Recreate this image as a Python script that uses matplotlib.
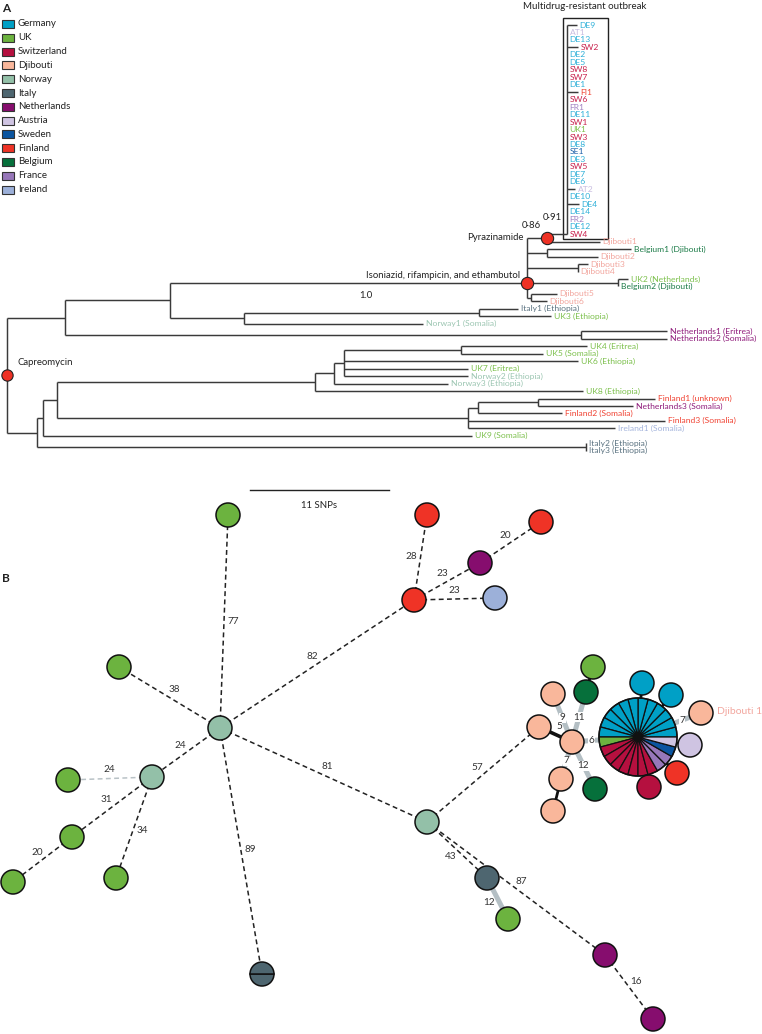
import matplotlib
matplotlib.use('Agg')
import matplotlib.pyplot as plt
from matplotlib.patches import Circle, Wedge, Rectangle
import numpy as np

plt.rcParams['font.family'] = ['Lato', 'DejaVu Sans']

W, H = 762, 1034
fig = plt.figure(figsize=(W / 100, H / 100), dpi=100)

# ---------------------------------------------------------------- data
countries = ['Germany', 'UK', 'Switzerland', 'Djibouti', 'Norway', 'Italy', 'Netherlands',
             'Austria', 'Sweden', 'Finland', 'Belgium', 'France', 'Ireland']
country_fill = ['#00a0c6', '#6cb33f', '#b5103f', '#f9b79b', '#93c0a8', '#4e6670', '#860d6e',
                '#cfc4e2', '#0b55a0', '#ef3326', '#06703b', '#9777b9', '#9cb0d9']
country_text = ['#2eb0d8', '#7cc04c', '#c8204c', '#f2a69e', '#9cc6b2', '#5a7280', '#8e1a7a',
                '#c8bce0', '#1a5ea8', '#f04232', '#1a7a46', '#a080c2', '#a4b4dc']
prefix_country = {'DE': 'Germany', 'AT': 'Austria', 'SW': 'Switzerland', 'FI': 'Finland',
                  'FR': 'France', 'UK': 'UK', 'SE': 'Sweden', 'Djibouti': 'Djibouti',
                  'Belgium': 'Belgium', 'Italy': 'Italy', 'Norway': 'Norway',
                  'Netherlands': 'Netherlands', 'Finland': 'Finland', 'Ireland': 'Ireland'}

# phylogeny (branch lengths in SNPs)
tree_newick = """(
 (
  (
   (
    (
     (DE9:0.79,AT1:0,DE13:0,SW2:0.87,DE2:0,DE5:0,SW8:0,SW7:0,DE1:0,FI1:0.87,SW6:0,FR1:0,
      DE11:0,SW1:0,UK1:0,SW3:0,DE8:0,SE1:0,DE3:0,SW5:0,DE7:0,DE6:0,AT2:0.63,DE10:0,
      DE4:0.95,DE14:0,FR2:0,DE12:0,SW4:0)MDR:1.59,
     Djibouti1:4.21
    )PZA:1.59,
    (Belgium1:6.67,Djibouti2:4.05):1.59,
    (Djibouti3:0.79,Djibouti4:0):4.05,
    (UK2:0.79,Belgium2:0)UB:7.22,
    (Djibouti5:2.06,Djibouti6:1.27):0.32
   )ISO:28.33,
   ((Italy1:3.10,UK3:5.71):18.65,Norway1:14.21):5.87
  ):8.33,
  (Netherlands1:6.83,Netherlands2:6.83):40.95
 ):4.60,
 (
  (
   (
    (
     (
      ((UK4:10.0,UK5:6.51):9.29,UK6:18.57,UK7:9.84,Norway2:9.84):0.79,
      Norway3:9.05
     ):1.51,
     UK8:21.27
    ):20.48,
    (((Finland1:9.29,Netherlands3:7.54):4.76,Finland2:6.67):0.79,Finland3:15.63,Ireland1:11.67):32.62
   ):1.11,
   UK9:34.05
  ):0.48,
  (Italy2:0,Italy3:0):43.57
 ):2.38
)root;"""

tip_origin = {'Belgium1': 'Djibouti', 'UK2': 'Netherlands', 'Belgium2': 'Djibouti',
              'Italy1': 'Ethiopia', 'UK3': 'Ethiopia', 'Norway1': 'Somalia',
              'Netherlands1': 'Eritrea', 'Netherlands2': 'Somalia', 'UK4': 'Eritrea',
              'UK5': 'Somalia', 'UK6': 'Ethiopia', 'UK7': 'Eritrea', 'Norway2': 'Ethiopia',
              'Norway3': 'Ethiopia', 'UK8': 'Ethiopia', 'Finland1': 'unknown',
              'Netherlands3': 'Somalia', 'Finland2': 'Somalia', 'Finland3': 'Somalia',
              'Ireland1': 'Somalia', 'UK9': 'Somalia', 'Italy2': 'Ethiopia', 'Italy3': 'Ethiopia'}

resistance_nodes = ['root', 'ISO', 'PZA']
resistance_text = ['Capreomycin', 'Isoniazid, rifampicin, and ethambutol', 'Pyrazinamide']
support_values = ['0·86', '0·91']
iso_branch_support = '1.0'
scale_snps = 11

# minimum spanning network (layout coordinates of the nodes)
net_country = ['UK', 'Finland', 'Finland', 'Netherlands', 'Finland', 'Ireland', 'UK', 'Norway',
               'Norway', 'UK', 'UK', 'UK', 'UK', 'Italy', 'Norway', 'Italy', 'UK',
               'Netherlands', 'Netherlands', 'Djibouti', 'Djibouti', 'Belgium', 'UK',
               'Djibouti', 'Djibouti', 'Djibouti', 'Belgium', 'MDR', 'Germany', 'Germany',
               'Djibouti', 'Austria', 'Finland', 'Switzerland']
net_x = [228, 427, 541, 480, 414, 495, 119, 220, 152, 68, 72, 13, 116, 262, 427, 487, 508,
         605, 653, 572, 553, 586, 593, 539, 561, 553, 595, 638, 642, 671, 701, 690, 677, 649]
net_y = [515, 515, 522, 563, 600, 598, 667, 728, 777, 780, 837, 882, 878, 974, 822, 878, 919,
         955, 1019, 742, 694, 692, 667, 727, 779, 811, 789, 737, 683, 695, 713, 745, 773, 787]
net_count = [1] * len(net_x)
net_count[13] = 2
pie_countries = ['Germany', 'UK', 'Switzerland', 'France', 'Sweden', 'Austria']
pie_counts = [12, 1, 7, 2, 1, 1]

edges_from = [7, 7, 7, 8, 8, 10, 8, 7, 7, 4, 4, 3, 4, 7, 14, 15, 14, 17, 14,
              19, 19, 21, 19, 19, 19, 19, 24, 27, 27, 27, 27, 27, 27]
edges_to = [0, 6, 8, 9, 10, 11, 12, 13, 4, 1, 3, 2, 5, 14, 15, 16, 17, 18, 23,
            20, 21, 22, 27, 23, 24, 26, 25, 30, 28, 29, 31, 32, 33]
edges_snp = ['77', '38', '24', '24', '31', '20', '34', '89', '82', '28', '23', '20', '23', '81',
             '43', '12', '87', '16', '57', '9', '11', '', '6', '5', '7', '12', '', '7',
             '', '', '', '', '']
edges_kind = ['d', 'd', 'd', 'g', 'd', 'd', 'd', 'd', 'd', 'd', 'd', 'd', 'd', 'd',
              'd', 'G', 'd', 'd', 'd', 'G', 'G', 'k', 'G', 'K', 'G', 'G', 'k', 'G',
              'k', 'k', 'k', 'k', 'k']
edges_side = [1, 1, 1, 1, 1, 1, -1, -1, -1, -1, -1, -1, -1, -1, 1, 1, -1, -1, -1,
              0, 0, 0, 0, 1, 0, 0, 0, 0, 0, 0, 0, 0, 0]

# ---------------------------------------------------------------- helpers
cmap_fill = dict(zip(countries, country_fill))
cmap_text = dict(zip(countries, country_text))


def parse_newick(s):
    s = ''.join(s.split()).rstrip(';')
    pos = 0

    def node():
        nonlocal pos
        ch = []
        if s[pos] == '(':
            pos += 1
            while True:
                ch.append(node())
                if s[pos] == ',':
                    pos += 1
                    continue
                pos += 1
                break
        st = pos
        while pos < len(s) and s[pos] not in ',():':
            pos += 1
        name = s[st:pos]
        ln = 0.0
        if pos < len(s) and s[pos] == ':':
            pos += 1
            st = pos
            while pos < len(s) and s[pos] not in ',()':
                pos += 1
            ln = float(s[st:pos])
        return {'name': name, 'len': ln, 'children': ch}
    return node()


def tip_country(name):
    for p in sorted(prefix_country, key=len, reverse=True):
        if name.startswith(p):
            return prefix_country[p]
    return 'UK'


# ---------------------------------------------------------------- panel A (tree)
PX_PER_SNP = 12.6
X0, Y0, DY = 7, 25, 7.47
axT = fig.add_axes([0, 0, 1, 1])
axT.set_xlim(-X0 / PX_PER_SNP, (W - X0) / PX_PER_SNP)
axT.set_ylim((H - Y0) / DY, -Y0 / DY)
axT.axis('off')

tree = parse_newick(tree_newick)
attach_child = {'MDR': -1, 'ISO': 3}
tips = []
nodes = {}


def layout(nd, x):
    nd['x'] = x + nd['len']
    if not nd['children']:
        nd['y'] = len(tips)
        tips.append(nd)
    else:
        for c in nd['children']:
            layout(c, nd['x'])
        ys = [c['y'] for c in nd['children']]
        if nd['name'] in attach_child:
            nd['y'] = ys[attach_child[nd['name']]]
        else:
            nd['y'] = (ys[0] + ys[-1]) / 2
    if nd['name']:
        nodes[nd['name']] = nd


tree['len'] = 0
layout(tree, 0)
LC = '#3a3a3a'
LW = 1.05


def draw(nd):
    if nd['children']:
        ys = [c['y'] for c in nd['children']]
        axT.plot([nd['x'], nd['x']], [min(ys), max(ys)], color=LC, lw=LW, solid_capstyle='butt')
        for c in nd['children']:
            axT.plot([nd['x'], c['x']], [c['y'], c['y']], color=LC, lw=LW, solid_capstyle='butt')
            draw(c)


draw(tree)

for t in tips:
    cn = tip_country(t['name'])
    lab = t['name'] + (f" ({tip_origin[t['name']]})" if t['name'] in tip_origin else '')
    axT.text(t['x'] + 0.22, t['y'], lab, color=cmap_text[cn], fontsize=6.1,
             va='center', ha='left')

# MDR box
mdr = nodes['MDR']
n_mdr = len(mdr['children'])
axT.add_patch(Rectangle((mdr['x'] - 0.32, -0.95), 3.6, n_mdr - 1 + 1.6, fill=False,
                        ec='#222', lw=1.0))
axT.text(mdr['x'] + 1.4, -2.45, 'Multidrug-resistant outbreak', fontsize=7, color='#222',
         ha='center', va='center')

# resistance acquisition markers
for nm in resistance_nodes:
    nd = nodes[nm]
    axT.scatter([nd['x']], [nd['y']], s=78 if nm != 'root' else 66, color='#ee3124',
                edgecolor='#222', lw=0.8, zorder=5)
iso = nodes['ISO']
pza = nodes['PZA']
root = nodes['root']
axT.text(root['x'] + 0.8, root['y'] - 1.75, resistance_text[0], fontsize=6.9, color='#222',
         ha='left', va='center')
axT.text(iso['x'] - 0.5, iso['y'] - 0.95, resistance_text[1], fontsize=6.9, color='#222',
         ha='right', va='center')
axT.text(iso['x'] - 0.3, pza['y'], resistance_text[2], fontsize=6.9, color='#222',
         ha='right', va='center')
axT.text(iso['x'] + 0.35, pza['y'] - 1.6, support_values[0], fontsize=6.9, color='#222',
         ha='center', va='center')
axT.text(pza['x'] + 0.4, pza['y'] - 2.7, support_values[1], fontsize=6.9, color='#222',
         ha='center', va='center')
axT.text(28.5, iso['y'] + 1.7, iso_branch_support, fontsize=6.9, color='#222',
         ha='center', va='center')

# scale bar
sb_x = 19.3
sb_y = 62.2
axT.plot([sb_x, sb_x + scale_snps], [sb_y, sb_y], color='#222', lw=1.0)
axT.text(sb_x + scale_snps / 2, sb_y + 2.1, f'{scale_snps} SNPs', fontsize=6.9,
         color='#222', ha='center', va='center')

# ---------------------------------------------------------------- overlay axes (pixels)
axN = fig.add_axes([0, 0, 1, 1])
axN.set_xlim(0, W)
axN.set_ylim(H, 0)
axN.axis('off')
axN.patch.set_alpha(0)

axN.text(2, 9, 'A', fontsize=8.5, fontweight='bold', color='#222', va='center', ha='left')
axN.text(2, 578, 'B', fontsize=8.5, fontweight='bold', color='#222', va='center', ha='left')

# legend
for i, (c, f) in enumerate(zip(countries, country_fill)):
    yy = 24 + i * 13.8
    axN.add_patch(Rectangle((2, yy - 4), 12, 8, fc=f, ec='#333', lw=0.8))
    axN.text(18, yy, c, fontsize=7, color='#222', va='center', ha='left')

# ---------------------------------------------------------------- panel B (network)
net_r = [39 if n_ == 'MDR' else 12 for n_ in net_country]

for a, b, lab, kind, side in zip(edges_from, edges_to, edges_snp, edges_kind, edges_side):
    xa, ya, xb, yb = net_x[a], net_y[a], net_x[b], net_y[b]
    if kind == 'd':
        axN.plot([xa, xb], [ya, yb], color='#222', lw=1.1, ls=(0, (3.2, 2.2)), zorder=1)
    elif kind == 'g':
        axN.plot([xa, xb], [ya, yb], color='#b9c2c6', lw=1.1, ls=(0, (3.2, 2.2)), zorder=1)
    elif kind == 'G':
        axN.plot([xa, xb], [ya, yb], color='#b4bfc4', lw=3.6, zorder=1, solid_capstyle='butt')
    elif kind == 'K':
        axN.plot([xa, xb], [ya, yb], color='#111', lw=2.6, zorder=1, solid_capstyle='butt')
    else:
        axN.plot([xa, xb], [ya, yb], color='#111', lw=2.0, zorder=1, solid_capstyle='butt')
    if lab:
        L = np.hypot(xb - xa, yb - ya)
        nx, ny = -(yb - ya) / L, (xb - xa) / L
        if a in (27,) or b in (27,):
            t = (net_r[a] + (L - net_r[a] - net_r[b]) / 2) / L
        else:
            t = 0.5
        mx, my = xa + t * (xb - xa), ya + t * (yb - ya)
        if side == 0:
            axN.text(mx, my, lab, fontsize=7.2, color='#333', ha='center', va='center',
                     zorder=3, bbox=dict(boxstyle='square,pad=0.05', fc='white', ec='none'))
        else:
            off = 9
            axN.text(mx + side * off * nx, my + side * off * ny, lab, fontsize=7.2,
                     color='#333', ha='center', va='center', zorder=3)

for i, (cn, x, y, r) in enumerate(zip(net_country, net_x, net_y, net_r)):
    if cn == 'MDR':
        total = sum(pie_counts)
        ang = 0.0
        for pc, cnt in zip(pie_countries, pie_counts):
            for _ in range(cnt):
                a1, a2 = ang, ang + 360.0 / total
                axN.add_patch(Wedge((x, y), r, -a2, -a1, fc=cmap_fill[pc], ec='#111',
                                    lw=0.9, zorder=4))
                ang = a2
        axN.add_patch(Circle((x, y), r, fc='none', ec='#111', lw=1.1, zorder=5))
        axN.add_patch(Circle((x, y), 3.5, fc='#111', ec='none', zorder=6))
    elif net_count[i] > 1:
        for k in range(net_count[i]):
            a1, a2 = k * 360 / net_count[i], (k + 1) * 360 / net_count[i]
            axN.add_patch(Wedge((x, y), r, a1, a2, fc=cmap_fill[cn], ec='#111', lw=1.1,
                                zorder=4))
    else:
        axN.add_patch(Circle((x, y), r, fc=cmap_fill[cn], ec='#111', lw=1.1, zorder=4))

axN.text(717, 711, 'Djibouti 1', fontsize=7.5, color='#f2a69e', ha='left', va='center')

fig.savefig('out.png', dpi=100)
